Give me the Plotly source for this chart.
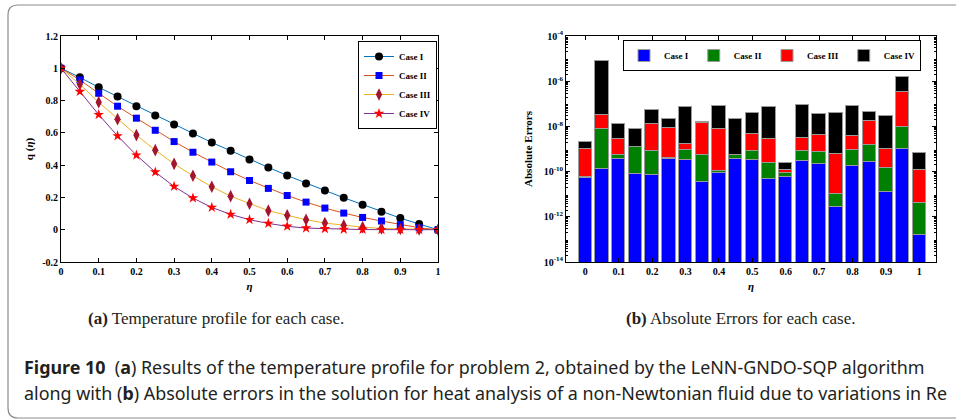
import plotly.graph_objects as go

# ---------------- data ----------------
eta = [round(0.05 * i, 2) for i in range(21)]

case1_q = [1.0, 0.944, 0.882, 0.825, 0.765, 0.707, 0.652, 0.596, 0.540, 0.489, 0.435,
           0.386, 0.336, 0.287, 0.243, 0.198, 0.155, 0.111, 0.072, 0.035, 0.0]
case2_q = [1.0, 0.928, 0.845, 0.765, 0.691, 0.616, 0.546, 0.480, 0.419, 0.359, 0.305,
           0.256, 0.212, 0.171, 0.134, 0.103, 0.076, 0.054, 0.031, 0.012, 0.0]
case3_q = [1.0, 0.901, 0.790, 0.685, 0.586, 0.493, 0.408, 0.334, 0.266, 0.208, 0.161,
           0.118, 0.089, 0.062, 0.041, 0.027, 0.016, 0.008, 0.004, 0.002, 0.0]
case4_q = [1.0, 0.856, 0.713, 0.581, 0.462, 0.357, 0.268, 0.196, 0.138, 0.095, 0.062,
           0.039, 0.021, 0.010, 0.006, 0.002, 0.001, 0.0005, 0.0002, 0.0001, 0.0]

case1_err = [5.0e-11, 1.3e-10, 3.5e-10, 7.9e-11, 6.9e-11, 3.5e-10, 3.2e-10, 3.4e-11, 8.5e-11, 3.5e-10, 3.2e-10,
             4.7e-11, 5.7e-11, 2.9e-10, 2.1e-10, 2.7e-12, 1.8e-10, 2.6e-10, 1.3e-11, 1.0e-9, 1.55e-13]
case2_err = [5e-12, 7.5e-9, 1.9e-10, 1.12e-9, 7.2e-10, 6e-11, 5.9e-10, 5.1e-10, 1.9e-11, 2.0e-10, 4.7e-10,
             1.9e-10, 2.6e-11, 5.0e-10, 5.1e-10, 7.3e-12, 7.1e-10, 1.24e-9, 1.27e-10, 8.8e-9, 3.95e-12]
case3_err = [9.6e-10, 2.3e-8, 2.26e-9, 2e-11, 1.22e-8, 8.5e-9, 7.9e-10, 1.3e-8, 7.7e-9, 1e-11, 4.0e-9,
             2.46e-9, 4.0e-11, 2.4e-9, 3.3e-9, 6.1e-10, 2.7e-9, 1.55e-8, 8.4e-10, 3.1e-7, 1.16e-10]
case4_err = [1.1e-9, 7.87e-6, 1.02e-8, 6.4e-9, 3.9e-8, 1.31e-8, 7.03e-8, 2e-9, 7.3e-8, 2.1e-8, 3.3e-8,
             6.9e-8, 1.17e-10, 8.4e-8, 3.1e-8, 4.0e-8, 7.3e-8, 2.7e-8, 2.7e-8, 1.23e-6, 5.6e-10]

case_names = ["Case I", "Case II", "Case III", "Case IV"]
x_ticks = [0, 0.1, 0.2, 0.3, 0.4, 0.5, 0.6, 0.7, 0.8, 0.9, 1]
x_ticktext = ["0", "0.1", "0.2", "0.3", "0.4", "0.5", "0.6", "0.7", "0.8", "0.9", "1"]
y_ticks = [-0.2, 0, 0.2, 0.4, 0.6, 0.8, 1.0, 1.2]
y_ticktext = ["-0.2", "0", "0.2", "0.4", "0.6", "0.8", "1", "1.2"]
log_ticks = [1e-14, 1e-12, 1e-10, 1e-8, 1e-6, 1e-4]
log_ticktext = ["10<sup>-14</sup>", "10<sup>-12</sup>", "10<sup>-10</sup>",
                "10<sup>-8</sup>", "10<sup>-6</sup>", "10<sup>-4</sup>"]

# ---------------- styles ----------------
W, H = 956, 420
SERIF = "Liberation Serif"
SANS = "Noto Sans"
line_colors = ["#0072BD", "#D95319", "#EDB120", "#7E2F8E"]
marker_colors = ["#000000", "#0000FF", "#A2142F", "#FF0000"]
marker_symbols = ["circle", "square", "diamond-tall", "star"]
marker_sizes = [8, 7, 9, 8]
bar_colors = ["#0000FF", "#008000", "#FF0000", "#000000"]


def bold(lst):
    return [f"<b>{t}</b>" for t in lst]


fig = go.Figure()

q_series = [case1_q, case2_q, case3_q, case4_q]
for i, ys in enumerate(q_series):
    fig.add_trace(go.Scatter(
        x=eta, y=ys, mode="lines+markers", name=f"<b>{case_names[i]}</b>",
        line=dict(color=line_colors[i], width=1),
        marker=dict(symbol=marker_symbols[i], color=marker_colors[i], size=marker_sizes[i],
                    line=dict(width=0)),
        xaxis="x", yaxis="y", legend="legend"))

err_series = [case1_err, case2_err, case3_err, case4_err]
for i, vals in enumerate(err_series):
    fig.add_trace(go.Bar(
        x=eta, y=vals, name=f"<b>{case_names[i]}</b>", width=0.04,
        marker=dict(color=bar_colors[i], line=dict(color="#9a9a9a", width=1)),
        xaxis="x2", yaxis="y2", legend="legend2"))


def px(x):
    return x / W


def py(y):
    return 1 - y / H


tickfont = dict(family=SERIF, size=10, color="black")
axis_common = dict(showline=True, linecolor="black", linewidth=1, mirror="ticks",
                   ticks="inside", ticklen=4, tickcolor="black", showgrid=False,
                   zeroline=False, tickfont=tickfont)

fig.update_layout(
    width=W, height=H, margin=dict(l=0, r=0, t=0, b=0, autoexpand=False),
    paper_bgcolor="white", plot_bgcolor="white",
    barmode="stack", bargap=0,
    font=dict(family=SERIF, size=10, color="black"),
    xaxis=dict(domain=[px(61), px(438)], range=[0, 1], tickvals=x_ticks, ticktext=bold(x_ticktext),
               title=dict(text="<b><i>η</i></b>", font=dict(family=SERIF, size=11), standoff=6),
               anchor="y", **axis_common),
    yaxis=dict(domain=[py(262), py(36)], range=[-0.2, 1.2], tickvals=y_ticks, ticktext=bold(y_ticktext),
               title=dict(text="<b>q (<i>η</i>)</b>", font=dict(family=SERIF, size=11), standoff=6),
               anchor="x", **axis_common),
    xaxis2=dict(domain=[px(566), px(936)], range=[-0.058, 1.05], tickvals=x_ticks, ticktext=bold(x_ticktext),
                title=dict(text="<b><i>η</i></b>", font=dict(family=SERIF, size=11), standoff=6),
                anchor="y2", **axis_common),
    yaxis2=dict(domain=[py(262), py(36)], type="log", range=[-14, -4], tickvals=log_ticks,
                ticktext=bold(log_ticktext),
                minor=dict(ticks="inside", ticklen=2, tickcolor="black",
                           tickvals=[m * 10 ** e for e in range(-14, -4) for m in range(2, 10)]),
                title=dict(text="<b>Absolute Errors</b>", font=dict(family=SERIF, size=11), standoff=8),
                anchor="x2", **axis_common),
    legend=dict(x=px(437), y=py(41), xanchor="right", yanchor="top", orientation="v",
                bgcolor="white", bordercolor="black", borderwidth=1,
                font=dict(family=SERIF, size=9, color="black"),
                itemwidth=30, tracegroupgap=0),
    legend2=dict(x=px(623), y=py(40), xanchor="left", yanchor="top", orientation="h",
                 bgcolor="white", bordercolor="black", borderwidth=1,
                 font=dict(family=SERIF, size=9, color="black"),
                 itemwidth=30, traceorder="normal"),
)

# rounded frame
x0, y0, x1, y1, r = 8, 5, 956, 418, 10
path = (f"M {px(x1)},{py(y0)} L {px(x0 + r)},{py(y0)} Q {px(x0)},{py(y0)} {px(x0)},{py(y0 + r)} "
        f"L {px(x0)},{py(y1 - r)} Q {px(x0)},{py(y1)} {px(x0 + r)},{py(y1)} L {px(x1)},{py(y1)}")
fig.add_shape(type="path", path=path, xref="paper", yref="paper",
              line=dict(color="#8c8c8c", width=1.2))

# sub captions
fig.add_annotation(x=px(216), y=py(318), xref="paper", yref="paper", showarrow=False,
                   text="<b>(a)</b> Temperature profile for each case.",
                   font=dict(family=SERIF, size=17, color="#231f20"), xanchor="center", yanchor="middle")
fig.add_annotation(x=px(740), y=py(318), xref="paper", yref="paper", showarrow=False,
                   text="<b>(b)</b> Absolute Errors for each case.",
                   font=dict(family=SERIF, size=17, color="#231f20"), xanchor="center", yanchor="middle")

# figure caption
fig.add_annotation(x=px(22), y=py(367), xref="paper", yref="paper", showarrow=False,
                   text="<b>Figure 10</b>  (<b>a</b>) Results of the temperature profile for problem 2, "
                        "obtained by the LeNN-GNDO-SQP algorithm",
                   font=dict(family=SANS, size=17.9, color="#231f20"), xanchor="left", yanchor="middle")
fig.add_annotation(x=px(22), y=py(393), xref="paper", yref="paper", showarrow=False,
                   text="along with (<b>b</b>) Absolute errors in the solution for heat analysis of a "
                        "non-Newtonian fluid due to variations in Re",
                   font=dict(family=SANS, size=17.9, color="#231f20"), xanchor="left", yanchor="middle")

fig.write_html("out.html", config={"displayModeBar": False},
               post_script="document.body.style.margin='0';document.body.style.overflow='hidden';")
